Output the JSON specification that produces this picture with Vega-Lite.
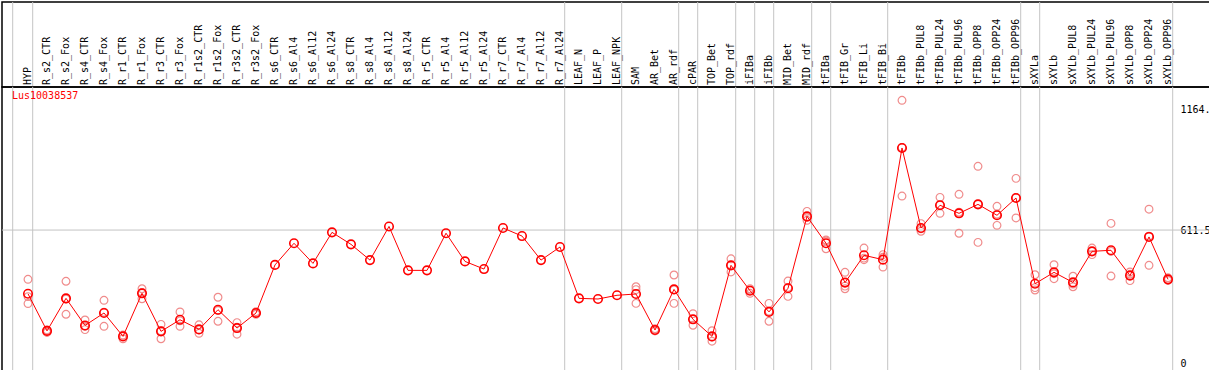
{
  "$schema": "https://vega.github.io/schema/vega-lite/v6.json",
  "padding": 0,
  "spacing": 0,
  "bounds": "flush",
  "config": {"view": {"stroke": "black", "strokeWidth": 1.5}, "font": "DejaVu Sans Mono"},
  "datasets": {
    "means": [
      {"sample": "HYP", "value": 320}, {"sample": "R_s2_CTR", "value": 150}, {"sample": "R_s2_Fox", "value": 299},
      {"sample": "R_s4_CTR", "value": 175}, {"sample": "R_s4_Fox", "value": 232}, {"sample": "R_r1_CTR", "value": 125},
      {"sample": "R_r1_Fox", "value": 322}, {"sample": "R_r3_CTR", "value": 148}, {"sample": "R_r3_Fox", "value": 201},
      {"sample": "R_r1s2_CTR", "value": 157}, {"sample": "R_r1s2_Fox", "value": 247}, {"sample": "R_r3s2_CTR", "value": 163},
      {"sample": "R_r3s2_Fox", "value": 232}, {"sample": "R_s6_CTR", "value": 452}, {"sample": "R_s6_Al4", "value": 551},
      {"sample": "R_s6_Al12", "value": 459}, {"sample": "R_s6_Al24", "value": 601}, {"sample": "R_s8_CTR", "value": 546},
      {"sample": "R_s8_Al4", "value": 474}, {"sample": "R_s8_Al12", "value": 628}, {"sample": "R_s8_Al24", "value": 427},
      {"sample": "R_r5_CTR", "value": 427}, {"sample": "R_r5_Al4", "value": 597}, {"sample": "R_r5_Al12", "value": 468},
      {"sample": "R_r5_Al24", "value": 433}, {"sample": "R_r7_CTR", "value": 621}, {"sample": "R_r7_Al4", "value": 584},
      {"sample": "R_r7_Al12", "value": 474}, {"sample": "R_r7_Al24", "value": 534}, {"sample": "LEAF_N", "value": 299},
      {"sample": "LEAF_P", "value": 296}, {"sample": "LEAF_NPK", "value": 313}, {"sample": "SAM", "value": 319},
      {"sample": "AR_Bet", "value": 154}, {"sample": "AR_rdf", "value": 340}, {"sample": "cPAR", "value": 203},
      {"sample": "TOP_Bet", "value": 125}, {"sample": "TOP_rdf", "value": 450}, {"sample": "iFIBa", "value": 334},
      {"sample": "iFIBb", "value": 237}, {"sample": "MID_Bet", "value": 345}, {"sample": "MID_rdf", "value": 674},
      {"sample": "tFIBa", "value": 551}, {"sample": "tFIB_Gr", "value": 371}, {"sample": "tFIB_Li", "value": 496},
      {"sample": "tFIB_Bi", "value": 476}, {"sample": "tFIBb", "value": 987}, {"sample": "tFIBb_PUL8", "value": 621},
      {"sample": "tFIBb_PUL24", "value": 725}, {"sample": "tFIBb_PUL96", "value": 688}, {"sample": "tFIBb_OPP8", "value": 729},
      {"sample": "tFIBb_OPP24", "value": 679}, {"sample": "tFIBb_OPP96", "value": 758}, {"sample": "sXYLa", "value": 366},
      {"sample": "sXYLb", "value": 418}, {"sample": "sXYLb_PUL8", "value": 372}, {"sample": "sXYLb_PUL24", "value": 514},
      {"sample": "sXYLb_PUL96", "value": 519}, {"sample": "sXYLb_OPP8", "value": 403}, {"sample": "sXYLb_OPP24", "value": 580},
      {"sample": "sXYLb_OPP96", "value": 386}
    ],
    "reps": [
      {"sample": "HYP", "value": 386}, {"sample": "HYP", "value": 307}, {"sample": "HYP", "value": 275},
      {"sample": "R_s2_CTR", "value": 154}, {"sample": "R_s2_CTR", "value": 148}, {"sample": "R_s2_CTR", "value": 143},
      {"sample": "R_s2_Fox", "value": 377}, {"sample": "R_s2_Fox", "value": 296}, {"sample": "R_s2_Fox", "value": 226},
      {"sample": "R_s4_CTR", "value": 200}, {"sample": "R_s4_CTR", "value": 171}, {"sample": "R_s4_CTR", "value": 156},
      {"sample": "R_s4_Fox", "value": 290}, {"sample": "R_s4_Fox", "value": 235}, {"sample": "R_s4_Fox", "value": 171},
      {"sample": "R_r1_CTR", "value": 131}, {"sample": "R_r1_CTR", "value": 125}, {"sample": "R_r1_CTR", "value": 114},
      {"sample": "R_r1_Fox", "value": 343}, {"sample": "R_r1_Fox", "value": 326}, {"sample": "R_r1_Fox", "value": 297},
      {"sample": "R_r3_CTR", "value": 180}, {"sample": "R_r3_CTR", "value": 150}, {"sample": "R_r3_CTR", "value": 114},
      {"sample": "R_r3_Fox", "value": 237}, {"sample": "R_r3_Fox", "value": 196}, {"sample": "R_r3_Fox", "value": 171},
      {"sample": "R_r1s2_CTR", "value": 178}, {"sample": "R_r1s2_CTR", "value": 155}, {"sample": "R_r1s2_CTR", "value": 139},
      {"sample": "R_r1s2_Fox", "value": 304}, {"sample": "R_r1s2_Fox", "value": 243}, {"sample": "R_r1s2_Fox", "value": 194},
      {"sample": "R_r3s2_CTR", "value": 188}, {"sample": "R_r3s2_CTR", "value": 167}, {"sample": "R_r3s2_CTR", "value": 135},
      {"sample": "R_r3s2_Fox", "value": 238}, {"sample": "R_r3s2_Fox", "value": 232}, {"sample": "R_r3s2_Fox", "value": 226},
      {"sample": "SAM", "value": 352}, {"sample": "SAM", "value": 339}, {"sample": "SAM", "value": 276},
      {"sample": "AR_Bet", "value": 160}, {"sample": "AR_Bet", "value": 152}, {"sample": "AR_Bet", "value": 150},
      {"sample": "AR_rdf", "value": 406}, {"sample": "AR_rdf", "value": 338}, {"sample": "AR_rdf", "value": 276},
      {"sample": "cPAR", "value": 229}, {"sample": "cPAR", "value": 204}, {"sample": "cPAR", "value": 176},
      {"sample": "TOP_Bet", "value": 151}, {"sample": "TOP_Bet", "value": 122}, {"sample": "TOP_Bet", "value": 103},
      {"sample": "TOP_rdf", "value": 480}, {"sample": "TOP_rdf", "value": 451}, {"sample": "TOP_rdf", "value": 420},
      {"sample": "iFIBa", "value": 343}, {"sample": "iFIBa", "value": 337}, {"sample": "iFIBa", "value": 322},
      {"sample": "iFIBb", "value": 276}, {"sample": "iFIBb", "value": 240}, {"sample": "iFIBb", "value": 194},
      {"sample": "MID_Bet", "value": 378}, {"sample": "MID_Bet", "value": 349}, {"sample": "MID_Bet", "value": 308},
      {"sample": "MID_rdf", "value": 697}, {"sample": "MID_rdf", "value": 669}, {"sample": "MID_rdf", "value": 656},
      {"sample": "tFIBa", "value": 566}, {"sample": "tFIBa", "value": 561}, {"sample": "tFIBa", "value": 526},
      {"sample": "tFIB_Gr", "value": 418}, {"sample": "tFIB_Gr", "value": 355}, {"sample": "tFIB_Gr", "value": 343},
      {"sample": "tFIB_Li", "value": 529}, {"sample": "tFIB_Li", "value": 483}, {"sample": "tFIB_Li", "value": 476},
      {"sample": "tFIB_Bi", "value": 499}, {"sample": "tFIB_Bi", "value": 487}, {"sample": "tFIB_Bi", "value": 442},
      {"sample": "tFIBb", "value": 1205}, {"sample": "tFIBb", "value": 989}, {"sample": "tFIBb", "value": 767},
      {"sample": "tFIBb_PUL8", "value": 641}, {"sample": "tFIBb_PUL8", "value": 617}, {"sample": "tFIBb_PUL8", "value": 606},
      {"sample": "tFIBb_PUL24", "value": 761}, {"sample": "tFIBb_PUL24", "value": 726}, {"sample": "tFIBb_PUL24", "value": 688},
      {"sample": "tFIBb_PUL96", "value": 775}, {"sample": "tFIBb_PUL96", "value": 693}, {"sample": "tFIBb_PUL96", "value": 597},
      {"sample": "tFIBb_OPP8", "value": 903}, {"sample": "tFIBb_OPP8", "value": 730}, {"sample": "tFIBb_OPP8", "value": 555},
      {"sample": "tFIBb_OPP24", "value": 720}, {"sample": "tFIBb_OPP24", "value": 684}, {"sample": "tFIBb_OPP24", "value": 633},
      {"sample": "tFIBb_OPP96", "value": 848}, {"sample": "tFIBb_OPP96", "value": 759}, {"sample": "tFIBb_OPP96", "value": 667},
      {"sample": "sXYLa", "value": 407}, {"sample": "sXYLa", "value": 348}, {"sample": "sXYLa", "value": 337},
      {"sample": "sXYLb", "value": 453}, {"sample": "sXYLb", "value": 412}, {"sample": "sXYLb", "value": 389},
      {"sample": "sXYLb_PUL8", "value": 400}, {"sample": "sXYLb_PUL8", "value": 364}, {"sample": "sXYLb_PUL8", "value": 352},
      {"sample": "sXYLb_PUL24", "value": 529}, {"sample": "sXYLb_PUL24", "value": 514}, {"sample": "sXYLb_PUL24", "value": 499},
      {"sample": "sXYLb_PUL96", "value": 642}, {"sample": "sXYLb_PUL96", "value": 514}, {"sample": "sXYLb_PUL96", "value": 401},
      {"sample": "sXYLb_OPP8", "value": 420}, {"sample": "sXYLb_OPP8", "value": 409}, {"sample": "sXYLb_OPP8", "value": 380},
      {"sample": "sXYLb_OPP24", "value": 707}, {"sample": "sXYLb_OPP24", "value": 583}, {"sample": "sXYLb_OPP24", "value": 450},
      {"sample": "sXYLb_OPP96", "value": 393}, {"sample": "sXYLb_OPP96", "value": 384}, {"sample": "sXYLb_OPP96", "value": 381}
    ],
    "groupEnds": [
      {"sample": "HYP"}, {"sample": "R_r7_Al24"}, {"sample": "LEAF_NPK"}, {"sample": "AR_rdf"}, {"sample": "cPAR"},
      {"sample": "TOP_rdf"}, {"sample": "iFIBa"}, {"sample": "iFIBb"}, {"sample": "MID_rdf"}, {"sample": "tFIBa"},
      {"sample": "tFIB_Bi"}, {"sample": "tFIBb_OPP96"}, {"sample": "sXYLa"}, {"sample": "sXYLb_OPP96"}
    ],
    "groupStart": [{"sample": "HYP"}],
    "gene": [{"label": "Lus10038537"}]
  },
  "vconcat": [
    {
      "width": 1208,
      "height": 85,
      "layer": [
        {
          "data": {"name": "groupEnds"},
          "mark": {"type": "rule", "color": "#c4c4c4", "strokeWidth": 1, "xOffset": 4.7},
          "encoding": {"x": {"field": "sample", "type": "nominal", "axis": null,
            "scale": {"type": "point", "range": [26, 1166], "padding": 0, "domain": ["HYP","R_s2_CTR","R_s2_Fox","R_s4_CTR","R_s4_Fox","R_r1_CTR","R_r1_Fox","R_r3_CTR","R_r3_Fox","R_r1s2_CTR","R_r1s2_Fox","R_r3s2_CTR","R_r3s2_Fox","R_s6_CTR","R_s6_Al4","R_s6_Al12","R_s6_Al24","R_s8_CTR","R_s8_Al4","R_s8_Al12","R_s8_Al24","R_r5_CTR","R_r5_Al4","R_r5_Al12","R_r5_Al24","R_r7_CTR","R_r7_Al4","R_r7_Al12","R_r7_Al24","LEAF_N","LEAF_P","LEAF_NPK","SAM","AR_Bet","AR_rdf","cPAR","TOP_Bet","TOP_rdf","iFIBa","iFIBb","MID_Bet","MID_rdf","tFIBa","tFIB_Gr","tFIB_Li","tFIB_Bi","tFIBb","tFIBb_PUL8","tFIBb_PUL24","tFIBb_PUL96","tFIBb_OPP8","tFIBb_OPP24","tFIBb_OPP96","sXYLa","sXYLb","sXYLb_PUL8","sXYLb_PUL24","sXYLb_PUL96","sXYLb_OPP8","sXYLb_OPP24","sXYLb_OPP96"]}}}
        },
        {
          "data": {"name": "groupStart"},
          "mark": {"type": "rule", "color": "#c4c4c4", "strokeWidth": 1, "xOffset": -15.3},
          "encoding": {"x": {"field": "sample", "type": "nominal", "axis": null}}
        },
        {
          "data": {"name": "means"},
          "mark": {"type": "text", "angle": 270, "align": "left", "baseline": "middle", "y": "height", "dx": 2, "fontSize": 10, "font": "DejaVu Sans Mono", "color": "black"},
          "encoding": {
            "x": {"field": "sample", "type": "nominal", "axis": null},
            "text": {"field": "sample"}
          }
        }
      ]
    },
    {
      "width": 1208,
      "height": 284,
      "layer": [
        {
          "data": {"name": "groupEnds"},
          "mark": {"type": "rule", "color": "#c4c4c4", "strokeWidth": 1, "xOffset": 4.7},
          "encoding": {"x": {"field": "sample", "type": "nominal", "axis": null,
            "scale": {"type": "point", "range": [26, 1166], "padding": 0, "domain": ["HYP","R_s2_CTR","R_s2_Fox","R_s4_CTR","R_s4_Fox","R_r1_CTR","R_r1_Fox","R_r3_CTR","R_r3_Fox","R_r1s2_CTR","R_r1s2_Fox","R_r3s2_CTR","R_r3s2_Fox","R_s6_CTR","R_s6_Al4","R_s6_Al12","R_s6_Al24","R_s8_CTR","R_s8_Al4","R_s8_Al12","R_s8_Al24","R_r5_CTR","R_r5_Al4","R_r5_Al12","R_r5_Al24","R_r7_CTR","R_r7_Al4","R_r7_Al12","R_r7_Al24","LEAF_N","LEAF_P","LEAF_NPK","SAM","AR_Bet","AR_rdf","cPAR","TOP_Bet","TOP_rdf","iFIBa","iFIBb","MID_Bet","MID_rdf","tFIBa","tFIB_Gr","tFIB_Li","tFIB_Bi","tFIBb","tFIBb_PUL8","tFIBb_PUL24","tFIBb_PUL96","tFIBb_OPP8","tFIBb_OPP24","tFIBb_OPP96","sXYLa","sXYLb","sXYLb_PUL8","sXYLb_PUL24","sXYLb_PUL96","sXYLb_OPP8","sXYLb_OPP24","sXYLb_OPP96"]}}}
        },
        {
          "data": {"name": "groupStart"},
          "mark": {"type": "rule", "color": "#c4c4c4", "strokeWidth": 1, "xOffset": -15.3},
          "encoding": {"x": {"field": "sample", "type": "nominal", "axis": null}}
        },
        {
          "data": {"values": [{}]},
          "mark": {"type": "rule", "color": "#c4c4c4", "strokeWidth": 1},
          "encoding": {
            "y": {"datum": 611.5, "type": "quantitative",
              "scale": {"domain": [-33.4, 1266], "nice": false, "zero": false},
              "axis": {"orient": "right", "offset": -30, "values": [0, 611.5, 1164], "labelExpr": "datum.value == 0 ? '0' : substring(format(datum.value, '.1f'), 0, 5)", "ticks": false, "domain": false, "grid": false, "title": null, "labelPadding": 0, "labelFont": "DejaVu Sans Mono", "labelFontSize": 10, "labelColor": "black", "labelBaseline": "middle", "labelAlign": "left"}}
          }
        },
        {
          "data": {"name": "gene"},
          "mark": {"type": "text", "color": "red", "font": "DejaVu Sans Mono", "fontSize": 10, "align": "left", "baseline": "middle", "xOffset": -16},
          "encoding": {
            "x": {"datum": "HYP", "type": "nominal", "axis": null},
            "y": {"datum": 1225, "type": "quantitative"},
            "text": {"field": "label"}
          }
        },
        {
          "data": {"name": "reps"},
          "mark": {"type": "point", "shape": "circle", "filled": false, "size": 60, "stroke": "#f08c8c", "strokeWidth": 1.2, "opacity": 1},
          "encoding": {
            "x": {"field": "sample", "type": "nominal", "axis": null},
            "y": {"field": "value", "type": "quantitative"}
          }
        },
        {
          "data": {"name": "means"},
          "mark": {"type": "line", "color": "red", "strokeWidth": 1},
          "encoding": {
            "x": {"field": "sample", "type": "nominal", "axis": null},
            "y": {"field": "value", "type": "quantitative"},
            "order": {"value": null}
          }
        },
        {
          "data": {"name": "means"},
          "mark": {"type": "point", "shape": "circle", "filled": false, "size": 72, "stroke": "red", "strokeWidth": 1.6, "opacity": 1},
          "encoding": {
            "x": {"field": "sample", "type": "nominal", "axis": null},
            "y": {"field": "value", "type": "quantitative"}
          }
        }
      ]
    }
  ]
}
